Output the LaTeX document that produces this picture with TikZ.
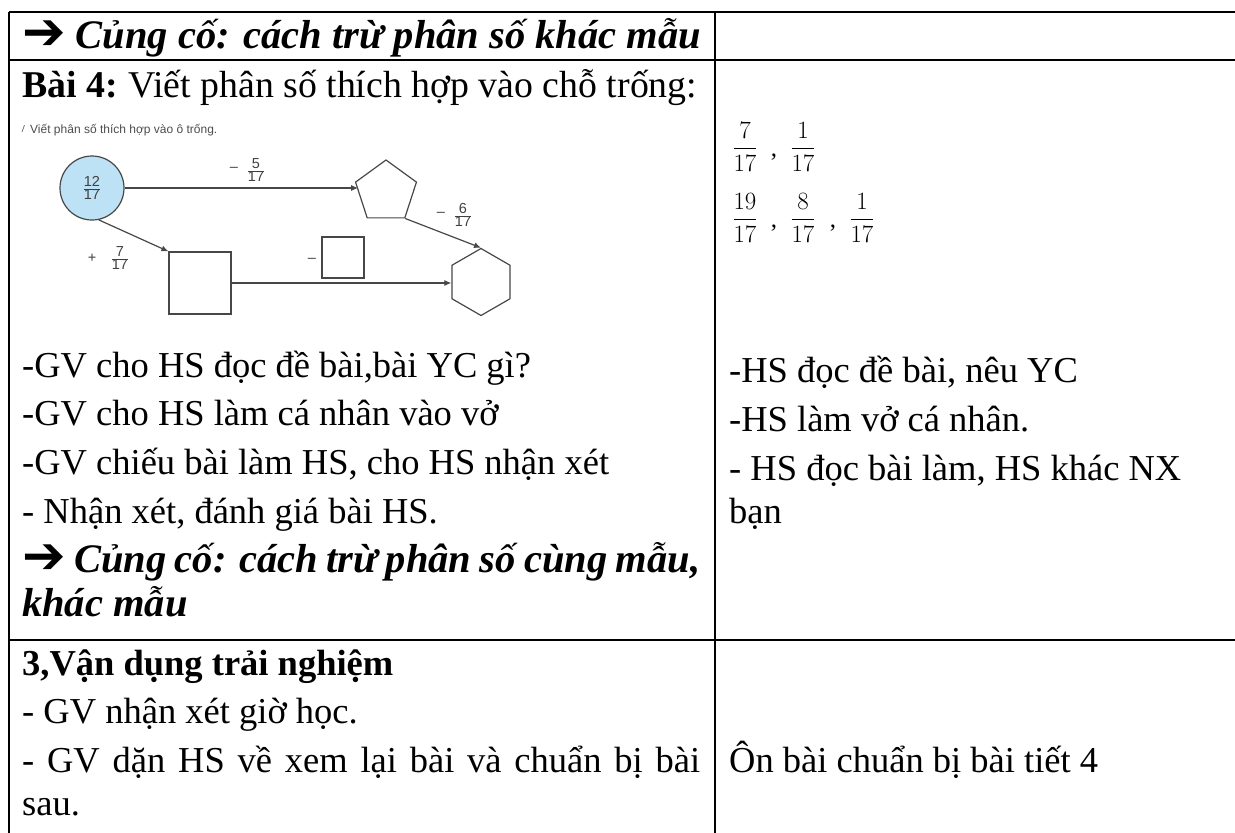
\documentclass[tikz,border=0pt]{standalone}
\usepackage{fontspec}
\setmainfont{Liberation Serif}
\newfontfamily\dejavu{DejaVu Sans}
\newfontfamily\arialf{Liberation Sans}
\usetikzlibrary{shapes.geometric,arrows.meta}
\newcommand\sfr[2]{$\frac{\hbox{#1}}{\hbox{#2}}$}
\newcommand\mfr[2]{$\displaystyle\frac{#1}{#2}$}
\newcommand\harrow{{\dejavu\fontsize{52}{52}\selectfont\raisebox{-1pt}{➔}}}
\begin{document}
\begin{tikzpicture}[x=1pt,y=-1pt,
  txt/.style={anchor=base west, inner sep=0pt, font=\fontsize{36.5}{43}\selectfont},
  bi/.style={txt, font=\fontsize{40.5}{46}\selectfont\bfseries\itshape},
  gridline/.style={line width=1.5pt, black},
  dline/.style={draw=black!72, line width=1.2pt},
  darr/.style={dline, -{Latex[length=7pt,width=6pt]}},
  small/.style={inner sep=0pt, text=black!75, font=\arialf\fontsize{14.5}{15}\selectfont},
  captxt/.style={inner sep=0pt, text=black!70, font=\arialf\fontsize{12}{13}\selectfont},
  fr/.style={inner sep=0pt, font=\fontsize{25}{28}\selectfont},
]
\useasboundingbox (0,0) rectangle (1235,833);

% table grid
\draw[gridline] (9,12) -- (1235,12);
\draw[gridline] (9,60) -- (1235,60);
\draw[gridline] (9,640) -- (1235,640);
\draw[gridline] (9,12) -- (9,833);
\draw[gridline] (715,12) -- (715,833);

% row 1
\node[bi] (r1) at (22,48) {\harrow\ Củng cố: cách trừ phân số khác mẫu};

% row 2 left
\node[txt, font=\fontsize{37.8}{43}\selectfont] (b4) at (22,97) {\textbf{Bài 4:}\hspace{-2pt} Viết phân số thích hợp vào chỗ trống:};

% embedded exercise picture
\draw[black!55, line width=0.8pt] (22,132) -- (24.5,125);
\node[captxt, anchor=west] (capt) at (30,130) {Viết phân số thích hợp vào ô trống.};
\node[circle, draw=black!72, line width=1.2pt, fill={rgb,255:red,190;green,226;blue,245},
      minimum size=64pt, inner sep=0pt, small] (circ) at (92,188) {\sfr{12}{17}};
\node[regular polygon, regular polygon sides=5, draw=black!72, line width=1.2pt,
      minimum size=64pt, inner sep=0pt] (pent) at (386,192) {};
\node[regular polygon, regular polygon sides=6, shape border rotate=30, draw=black!72,
      line width=1.2pt, minimum size=67pt, inner sep=0pt] (hex) at (481,282) {};
\node[rectangle, draw=black!72, line width=1.2pt, minimum width=62pt, minimum height=62pt,
      inner sep=0pt] (sq) at (200,283) {};
\node[rectangle, draw=black!72, line width=1.2pt, minimum width=42pt, minimum height=41pt,
      inner sep=0pt] (sqs) at (343,257.5) {};

\draw[darr] (circ.east) -- (circ.east -| pent.west);
\draw[darr] (pent.corner 4) -- (hex.corner 1);
\draw[darr] (circ.-78) -- (sq.north west);
\draw[darr] (sq.east) -- (sq.east -| hex.west);

\node[small] (m5) at (234,169) {–};
\node[small] (f5) at (256,170) {\sfr{5}{17}};
\node[small] (m6) at (441,214) {–};
\node[small] (f6) at (463,215) {\sfr{6}{17}};
\node[small] (p7) at (92,258) {+};
\node[small] (f7) at (120,258) {\sfr{7}{17}};
\node[small] (ms) at (312,260) {–};

% row 2 left text
\node[txt] (l1) at (22,377) {-GV cho HS đọc đề bài,bài YC gì?};
\node[txt] (l2) at (22,425) {-GV cho HS làm cá nhân vào vở};
\node[txt] (l3) at (22,474) {-GV chiếu bài làm HS, cho HS nhận xét};
\node[txt] (l4) at (22,523) {- Nhận xét, đánh giá bài HS.};
\node[bi] (l5) at (22,572) {\makebox[678pt][s]{\harrow\ Củng cố: cách trừ phân số cùng mẫu,}};
\node[bi] (l6) at (22,616) {khác mẫu};

% row 2 right: answers
\node[fr] (a1) at (745,147) {\mfr{7}{17}};
\node[fr] (c1) at (774,157) {,};
\node[fr] (a2) at (803,147) {\mfr{1}{17}};
\node[fr] (a3) at (745,218) {\mfr{19}{17}};
\node[fr] (c2) at (774,228) {,};
\node[fr] (a4) at (803,218) {\mfr{8}{17}};
\node[fr] (c3) at (833,228) {,};
\node[fr] (a5) at (862,218) {\mfr{1}{17}};

\node[txt] (r21) at (729,382) {-HS đọc đề bài, nêu YC};
\node[txt] (r22) at (729,431) {-HS làm vở cá nhân.};
\node[txt] (r23) at (729,480) {- HS đọc bài làm, HS khác NX};
\node[txt] (r24) at (729,523) {bạn};

% row 3
\node[txt] (v1) at (22,675) {\textbf{3,Vận dụng trải nghiệm}};
\node[txt] (v2) at (22,723) {- GV nhận xét giờ học.};
\node[txt] (v3) at (22,772) {\makebox[678pt][s]{- GV dặn HS về xem lại bài và chuẩn bị bài}};
\node[txt] (v4) at (22,815) {sau.};
\node[txt] (v5) at (729,772) {Ôn bài chuẩn bị bài tiết 4};
\end{tikzpicture}
\end{document}
